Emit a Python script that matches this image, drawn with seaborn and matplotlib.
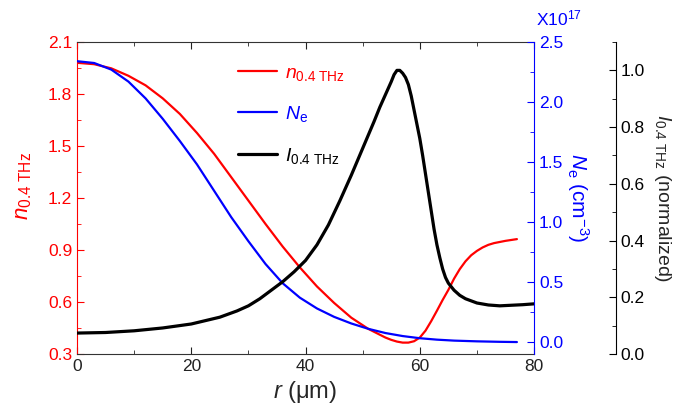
import numpy as np
import pandas as pd
import seaborn as sns
import matplotlib
matplotlib.use("Agg")
import matplotlib.pyplot as plt
from matplotlib.ticker import MultipleLocator

# radial profiles
r_n = [0, 3, 6, 9, 12, 15, 18, 21, 24, 27, 30, 33, 36, 39, 42, 45, 48, 51, 54, 55, 56,
       57, 58, 59, 60, 61, 62, 63, 64, 65, 66, 67, 68, 69, 70, 71, 72, 73, 75, 77]
n_thz = [1.98, 1.972, 1.948, 1.905, 1.85, 1.775, 1.685, 1.575, 1.455, 1.32, 1.185, 1.05,
         0.92, 0.80, 0.69, 0.595, 0.51, 0.445, 0.395, 0.382, 0.372, 0.366, 0.366, 0.374,
         0.395, 0.435, 0.49, 0.55, 0.612, 0.67, 0.735, 0.79, 0.835, 0.87, 0.895, 0.915,
         0.93, 0.94, 0.953, 0.963]

r_ne = [0, 3, 6, 9, 12, 15, 18, 21, 24, 27, 30, 33, 36, 39, 42, 45, 48, 51, 54, 57,
        60, 63, 66, 70, 74, 77]
ne = [2.34, 2.325, 2.27, 2.17, 2.03, 1.86, 1.675, 1.48, 1.26, 1.04, 0.84, 0.65, 0.49,
      0.37, 0.28, 0.21, 0.155, 0.11, 0.075, 0.05, 0.032, 0.02, 0.012, 0.006, 0.002, 0.0]

r_i = [0, 5, 10, 15, 20, 25, 28, 30, 32, 34, 36, 38, 40, 42, 44, 46, 48, 50, 52, 53,
       54, 55, 55.5, 56, 56.5, 57, 57.5, 58, 58.5, 59, 59.5, 60, 60.5, 61, 61.5, 62,
       62.5, 63, 63.5, 64, 64.5, 65, 66, 67, 68, 70, 72, 74, 76, 78, 80]
i_thz = [0.074, 0.076, 0.082, 0.092, 0.106, 0.13, 0.152, 0.17, 0.195, 0.225, 0.255,
         0.29, 0.33, 0.385, 0.455, 0.54, 0.63, 0.725, 0.82, 0.87, 0.915, 0.96, 0.985,
         1.0, 1.0, 0.99, 0.975, 0.95, 0.91, 0.86, 0.81, 0.76, 0.70, 0.635, 0.57, 0.505,
         0.44, 0.385, 0.34, 0.30, 0.27, 0.25, 0.225, 0.207, 0.195, 0.18, 0.173, 0.170,
         0.172, 0.174, 0.177]

sns.set_style("white")
plt.rcParams["font.family"] = ["Liberation Sans", "DejaVu Sans"]
plt.rcParams["mathtext.fontset"] = "custom"
plt.rcParams["mathtext.rm"] = "Liberation Sans"
plt.rcParams["mathtext.it"] = "Liberation Sans:italic"
plt.rcParams["mathtext.bf"] = "Liberation Sans:bold"

fig = plt.figure(figsize=(6.89, 4.2), dpi=100)
ax = fig.add_axes([0.1118, 0.157, 0.6633, 0.743])
ax2 = ax.twinx()
ax3 = ax.twinx()

RED, BLUE = "#ff0000", "#0000ff"

sns.lineplot(x=r_n, y=n_thz, ax=ax, color=RED, lw=1.6, label=r"$n_{\mathrm{0.4\ THz}}$")
sns.lineplot(x=r_ne, y=ne, ax=ax2, color=BLUE, lw=1.6, label=r"$N_{\mathrm{e}}$")
sns.lineplot(x=r_i, y=i_thz, ax=ax3, color="black", lw=2.3, label=r"$I_{\mathrm{0.4\ THz}}$")

for a in (ax, ax2):
    if a.get_legend():
        a.get_legend().remove()
for a in (ax, ax2, ax3):
    for ln in a.get_lines():
        ln.set_solid_joinstyle("round")

# main axis
ax.set_xlim(0, 80)
ax.set_ylim(0.3, 2.1)
ax.xaxis.set_major_locator(MultipleLocator(20))
ax.xaxis.set_minor_locator(MultipleLocator(10))
ax.yaxis.set_major_locator(MultipleLocator(0.3))
ax.yaxis.set_minor_locator(MultipleLocator(0.15))
ax.yaxis.set_major_formatter(plt.FormatStrFormatter("%.1f"))
ax.tick_params(axis="x", which="both", direction="in", top=True, bottom=True,
               labelsize=12.5, colors="#222222")
ax.tick_params(axis="x", which="major", length=5)
ax.tick_params(axis="x", which="minor", length=3)
ax.tick_params(axis="y", which="both", direction="in", left=True, colors=RED, labelsize=12.5)
ax.tick_params(axis="y", which="major", length=5)
ax.tick_params(axis="y", which="minor", length=3)
ax.spines["left"].set_color(RED)
ax.spines["right"].set_visible(False)
for s in ("top", "bottom"):
    ax.spines[s].set_color("#333333")
ax.set_xlabel(r"$r$ (μm)", fontsize=17, labelpad=4)
ax.set_ylabel(r"$n_{\mathrm{0.4\ THz}}$", fontsize=16, color=RED, labelpad=6)
ax.yaxis.set_label_coords(-0.095, 0.54)

# electron density axis
ax2.set_ylim(-0.1, 2.5)
ax2.yaxis.set_major_locator(MultipleLocator(0.5))
ax2.yaxis.set_minor_locator(MultipleLocator(0.25))
ax2.yaxis.set_major_formatter(plt.FormatStrFormatter("%.1f"))
ax2.tick_params(axis="y", which="both", direction="in", right=True, colors=BLUE, labelsize=12.5)
ax2.tick_params(axis="y", which="major", length=5)
ax2.tick_params(axis="y", which="minor", length=3)
for s in ("left", "top", "bottom"):
    ax2.spines[s].set_visible(False)
ax2.spines["right"].set_color(BLUE)
ax2.set_ylabel(r"$N_{\mathrm{e}}$ (cm$^{-3}$)", fontsize=15, color=BLUE, rotation=270, labelpad=20)
ax2.text(1.005, 1.045, r"X10$^{17}$", transform=ax2.transAxes, color=BLUE, fontsize=12.5,
         ha="left", va="bottom")

# intensity axis
ax3.spines["right"].set_position(("axes", 1.179))
ax3.set_ylim(0, 1.1)
ax3.yaxis.set_major_locator(MultipleLocator(0.2))
ax3.yaxis.set_minor_locator(MultipleLocator(0.1))
ax3.yaxis.set_major_formatter(plt.FormatStrFormatter("%.1f"))
ax3.tick_params(axis="y", which="both", direction="in", right=True, colors="black", labelsize=12.5)
ax3.tick_params(axis="y", which="major", length=5)
ax3.tick_params(axis="y", which="minor", length=3)
for s in ("left", "top", "bottom"):
    ax3.spines[s].set_visible(False)
ax3.spines["right"].set_color("black")
ax3.set_ylabel(r"$I_{\mathrm{0.4\ THz}}$ (normalized)", fontsize=14, rotation=270, labelpad=20)

# legend
handles = ax.get_lines()[:1] + ax2.get_lines()[:1] + ax3.get_lines()[:1]
labels = [r"$n_{\mathrm{0.4\ THz}}$", r"$N_{\mathrm{e}}$", r"$I_{\mathrm{0.4\ THz}}$"]
leg = ax3.legend(handles, labels, loc="upper left", bbox_to_anchor=(0.315, 0.985),
                 frameon=False, fontsize=14, labelspacing=1.1, handlelength=2.0,
                 handletextpad=0.4)
for t, c in zip(leg.get_texts(), [RED, BLUE, "black"]):
    t.set_color(c)

fig.savefig("out.png", dpi=100)
